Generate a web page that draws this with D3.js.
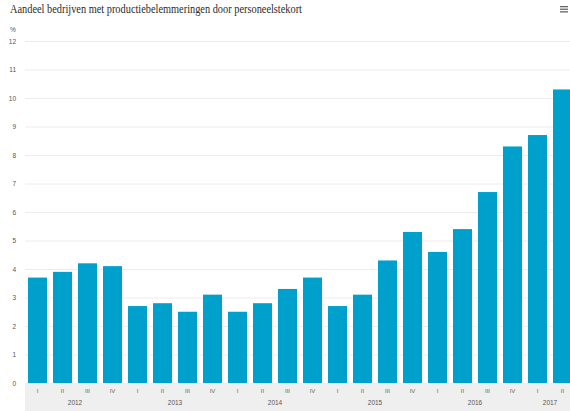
<!DOCTYPE html>
<html>
<head>
<meta charset="utf-8">
<script src="https://cdn.jsdelivr.net/npm/d3@7"></script>
<style>
body { margin:0; background:#fff; }
svg { display:block; }
</style>
</head>
<body>
<div id="figure"></div>
<script>
// data
var years = ["2012","2013","2014","2015","2016","2017"];
var quarters = ["I","II","III","IV"];
var values = [3.7, 3.9, 4.2, 4.1,
              2.7, 2.8, 2.5, 3.1,
              2.5, 2.8, 3.3, 3.7,
              2.7, 3.1, 4.3, 5.3,
              4.6, 5.4, 6.7, 8.3,
              8.7, 10.3];
var yTicks = [0,1,2,3,4,5,6,7,8,9,10,11,12];

var w = 570, h = 411;
var plotLeft = 25, plotRight = 575, plotTop = 41, plotBottom = 383;

// one key per bar: year + quarter
var keys = values.map(function(d,i) {
	return years[Math.floor(i/4)] + "-" + quarters[i%4];
});

var svg = d3.select("#figure").append("svg").attr("width", w).attr("height", h);

var x = d3.scaleBand().domain(keys).range([plotLeft, plotRight]).paddingInner(0.24).paddingOuter(0.12);
var y = d3.scaleLinear().domain([0,12]).range([plotBottom, plotTop]);

svg.append("text")
	.text("Aandeel bedrijven met productiebelemmeringen door personeelstekort")
	.attr("x", 10)
	.attr("y", 13)
	.attr("font-family", "Liberation Serif, serif")
	.attr("font-size", "11.5px")
	.attr("fill", "#2b2b2b")
	.attr("textLength", 292)
	.attr("lengthAdjust", "spacingAndGlyphs");

// menu icon
svg.selectAll("rect.menu")
	.data([0,1,2])
	.enter()
	.append("rect")
	.attr("class","menu")
	.attr("x", 560)
	.attr("y", function(d) { return 6 + d*2.6; })
	.attr("width", 8)
	.attr("height", 1.3)
	.attr("fill", "#666");

svg.append("text")
	.text("%")
	.attr("x", 10)
	.attr("y", 32)
	.attr("font-family", "Liberation Sans, sans-serif")
	.attr("font-size", "6.5px")
	.attr("fill", "#555");

// grey band behind the category axis
svg.append("rect")
	.attr("x", plotLeft)
	.attr("y", plotBottom)
	.attr("width", w - plotLeft)
	.attr("height", h - plotBottom)
	.attr("fill", "#efefef");

var yAxis = svg.append("g")
	.attr("transform", "translate(" + plotLeft + ",0)")
	.call(d3.axisLeft(y).tickValues(yTicks).tickSize(-(w - plotLeft)).tickPadding(9));
yAxis.select(".domain").remove();
yAxis.selectAll("line").attr("stroke", "#ececec");
yAxis.selectAll("text")
	.attr("font-family", "Liberation Sans, sans-serif")
	.attr("font-size", "6.5px")
	.attr("fill", "#555");

svg.selectAll("rect.bar")
	.data(values)
	.enter()
	.append("rect")
	.attr("class", "bar")
	.attr("x", function(d,i) { return x(keys[i]); })
	.attr("y", function(d) { return y(d); })
	.attr("width", x.bandwidth())
	.attr("height", function(d) { return y(0) - y(d); })
	.attr("fill", "#00a0cc");

var xAxis = svg.append("g")
	.attr("transform", "translate(0," + plotBottom + ")")
	.call(d3.axisBottom(x).tickSize(0).tickPadding(6)
		.tickFormat(function(k) { return k.split("-")[1]; }));
xAxis.select(".domain").remove();
xAxis.selectAll("text")
	.attr("font-family", "Liberation Sans, sans-serif")
	.attr("font-size", "6px")
	.attr("fill", "#666");

svg.selectAll("text.year")
	.data(years)
	.enter()
	.append("text")
	.attr("class", "year")
	.attr("x", function(d) {
		var ks = keys.filter(function(k) { return k.indexOf(d) == 0; });
		return (x(ks[0]) + x(ks[ks.length-1]) + x.bandwidth()) / 2;
	})
	.attr("y", 405)
	.attr("text-anchor", "middle")
	.attr("font-family", "Liberation Sans, sans-serif")
	.attr("font-size", "6.5px")
	.attr("fill", "#555")
	.text(function(d) { return d; });
</script>
</body>
</html>
